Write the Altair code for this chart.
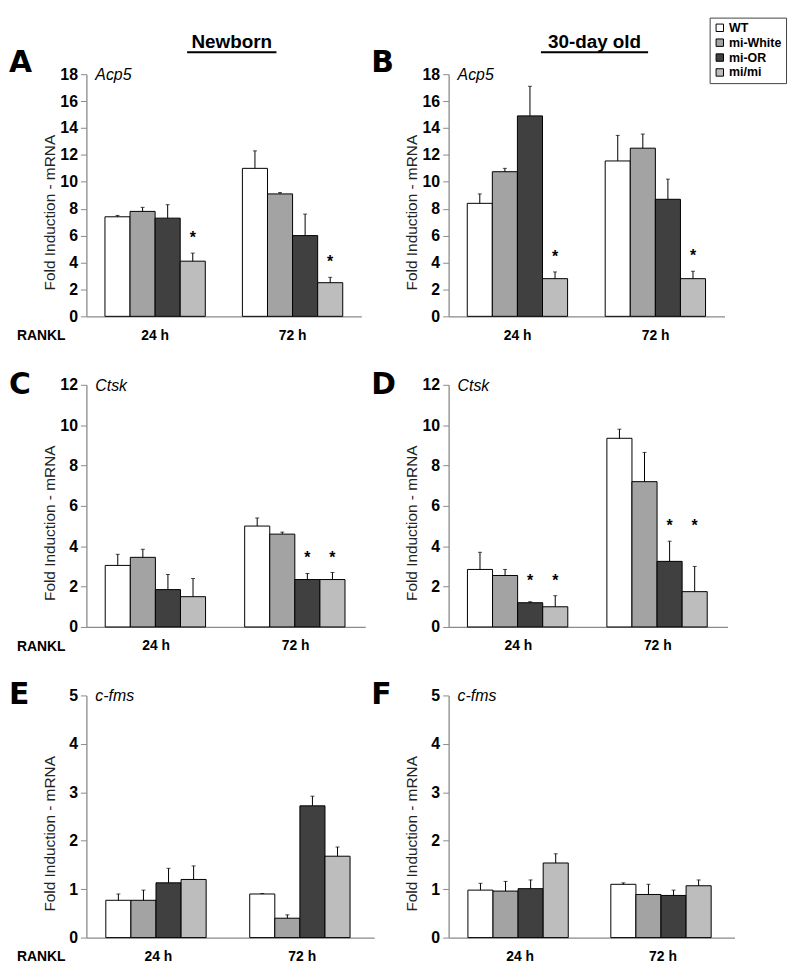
import altair as alt
import pandas as pd

genotypes = ["WT", "mi-White", "mi-OR", "mi/mi"]
times = ["24 h", "72 h"]
fills = ["#ffffff", "#a3a3a3", "#404040", "#bdbdbd"]

# order: 24 h (WT, mi-White, mi-OR, mi/mi), 72 h (WT, mi-White, mi-OR, mi/mi)
a_mean = [7.4, 7.8, 7.3, 4.1, 11.0, 9.1, 6.0, 2.5]
a_top = [7.5, 8.1, 8.3, 4.7, 12.3, 9.2, 7.6, 2.9]
a_star = [0, 0, 0, 1, 0, 0, 0, 1]

b_mean = [8.4, 10.75, 14.9, 2.8, 11.55, 12.5, 8.7, 2.8]
b_top = [9.1, 11.0, 17.1, 3.3, 13.45, 13.55, 10.2, 3.35]
b_star = [0, 0, 0, 1, 0, 0, 0, 1]

c_mean = [3.05, 3.45, 1.85, 1.5, 5.0, 4.6, 2.35, 2.35]
c_top = [3.6, 3.85, 2.6, 2.4, 5.4, 4.7, 2.65, 2.7]
c_star = [0, 0, 0, 0, 0, 0, 1, 1]

d_mean = [2.85, 2.55, 1.2, 1.0, 9.35, 7.2, 3.25, 1.75]
d_top = [3.7, 2.85, 1.25, 1.55, 9.8, 8.65, 4.25, 3.0]
d_star = [0, 0, 1, 1, 0, 0, 1, 1]

e_mean = [0.77, 0.77, 1.13, 1.2, 0.9, 0.4, 2.72, 1.68]
e_top = [0.9, 0.98, 1.43, 1.48, 0.91, 0.47, 2.92, 1.87]
e_star = [0, 0, 0, 0, 0, 0, 0, 0]

f_mean = [0.98, 0.96, 1.01, 1.54, 1.1, 0.89, 0.87, 1.07]
f_top = [1.12, 1.16, 1.19, 1.73, 1.13, 1.1, 0.98, 1.19]
f_star = [0, 0, 0, 0, 0, 0, 0, 0]

FONT = "Liberation Sans"
LETTER_FONT = "DejaVu Sans"
H = 244


def panel(letter, gene, mean, top, star, ymax, step, width, letter_y,
          header=None, underline=0, rankl=False, legend=False):
    df = pd.DataFrame({
        "time": [t for t in times for _ in genotypes],
        "genotype": genotypes * 2,
        "mean": mean,
        "top": top,
        "star": star,
    })
    anchor = {}
    for t in times:
        sub = df[(df.time == t) & (df.star == 1)]
        anchor[t] = sub["top"].max() if len(sub) else 0
    df["star_y"] = df["time"].map(anchor)

    x = alt.X("time:N", sort=times,
              scale=alt.Scale(domain=times, paddingInner=0.27, paddingOuter=0.135),
              axis=alt.Axis(title=None, labelAngle=0, labelFontSize=14,
                            labelFontWeight="bold", labelColor="black",
                            ticks=False, labelPadding=12, domainColor="#8a8a8a",
                            domainWidth=1.3, labelFont=FONT))
    xo = alt.XOffset("genotype:N", sort=genotypes,
                     scale=alt.Scale(domain=genotypes, paddingInner=0, paddingOuter=0))
    yscale = alt.Scale(domain=[0, ymax], nice=False)
    yaxis = alt.Axis(values=list(range(0, ymax + 1, step)), title="Fold Induction - mRNA",
                     grid=False, labelFontSize=16, labelFontWeight="bold",
                     labelColor="black", labelPadding=3, tickSize=6,
                     tickColor="#8a8a8a", domainColor="#8a8a8a", domainWidth=1.3,
                     titleFontSize=15.5, titleFontWeight="normal", titleColor="#222",
                     titleX=-37, titleY=H / 2 + 17, titleAngle=270,
                     titleAlign="center", titleBaseline="middle",
                     labelFont=FONT, titleFont=FONT)

    def y(field):
        return alt.Y(f"{field}:Q", scale=yscale, axis=yaxis)

    base = alt.Chart(df)
    fill_legend = None
    if legend:
        fill_legend = alt.Legend(orient="none", legendX=263, legendY=-57, title=None,
                                 direction="vertical", symbolType="square",
                                 symbolSize=56, symbolStrokeColor="black",
                                 symbolStrokeWidth=1, labelFontSize=12.5,
                                 labelFontWeight="bold", labelFont=FONT,
                                 labelColor="black", labelOffset=3,
                                 rowPadding=2, padding=4, strokeColor="#444",
                                 fillColor="white")
    bars = base.mark_bar(stroke="black", strokeWidth=1).encode(
        x=x, xOffset=xo, y=y("mean"),
        fill=alt.Fill("genotype:N", sort=genotypes,
                      scale=alt.Scale(domain=genotypes, range=fills),
                      legend=fill_legend),
    )
    rules = base.mark_rule(color="black", strokeWidth=1).encode(
        x=x, xOffset=xo, y=y("mean"), y2="top:Q")
    caps = base.mark_tick(color="black", thickness=1, size=4).encode(
        x=x, xOffset=xo, y=y("top"))
    layers = [bars, rules, caps]
    if sum(star):
        stars = base.transform_filter("datum.star == 1").mark_text(
            text="*", fontSize=16, fontWeight="bold", dy=-10, baseline="alphabetic",
            font=FONT, color="black").encode(x=x, xOffset=xo, y=y("star_y"))
        layers.append(stars)

    gene_df = pd.DataFrame({"t": [gene]})
    layers.append(alt.Chart(gene_df).mark_text(
        align="left", baseline="middle", fontSize=16, fontStyle="italic",
        font=FONT, color="black").encode(text="t:N", x=alt.value(9), y=alt.value(1)))

    letter_df = pd.DataFrame({"t": [letter]})
    layers.append(alt.Chart(letter_df).mark_text(
        align="left", baseline="alphabetic", fontSize=30, fontWeight="bold",
        font=LETTER_FONT, color="black").encode(text="t:N", x=alt.value(-78), y=alt.value(letter_y)))

    if header:
        hx = width / 2 + 8
        head_df = pd.DataFrame({"t": [header]})
        layers.append(alt.Chart(head_df).mark_text(
            align="center", baseline="alphabetic", fontSize=19, fontWeight="bold",
            font=FONT, color="black").encode(text="t:N", x=alt.value(hx), y=alt.value(-26)))
        layers.append(alt.Chart(head_df).mark_rule(color="black", strokeWidth=2).encode(
            x=alt.value(hx - underline), x2=alt.value(hx + underline), y=alt.value(-22)))

    if rankl:
        r_df = pd.DataFrame({"t": ["RANKL"]})
        layers.append(alt.Chart(r_df).mark_text(
            align="left", baseline="middle", fontSize=14, fontWeight="bold",
            font=FONT, color="black").encode(text="t:N", x=alt.value(-70), y=alt.value(H + 20)))

    return alt.layer(*layers).properties(width=width, height=H)


A = panel("A", "Acp5", a_mean, a_top, a_star, 18, 2, 277, -2,
          header="Newborn", underline=45, rankl=True)
B = panel("B", "Acp5", b_mean, b_top, b_star, 18, 2, 278, -2,
          header="30-day old", underline=54, legend=True)
C = panel("C", "Ctsk", c_mean, c_top, c_star, 12, 2, 281, 9, rankl=True)
D = panel("D", "Ctsk", d_mean, d_top, d_star, 12, 2, 281, 9)
E = panel("E", "c-fms", e_mean, e_top, e_star, 5, 1, 290, 9, rankl=True)
F = panel("F", "c-fms", f_mean, f_top, f_star, 5, 1, 288, 9)

chart = alt.concat(
    A, B, C, D, E, F, columns=2,
    spacing={"row": 69, "column": 75}, bounds="flush",
).resolve_scale(
    fill="independent"
).properties(
    padding={"left": 1, "top": 5, "right": 5, "bottom": 5}
).configure(font=FONT).configure_view(strokeWidth=0, stroke="transparent")

chart.save("out.html", embed_options={"renderer": "svg", "actions": False})
